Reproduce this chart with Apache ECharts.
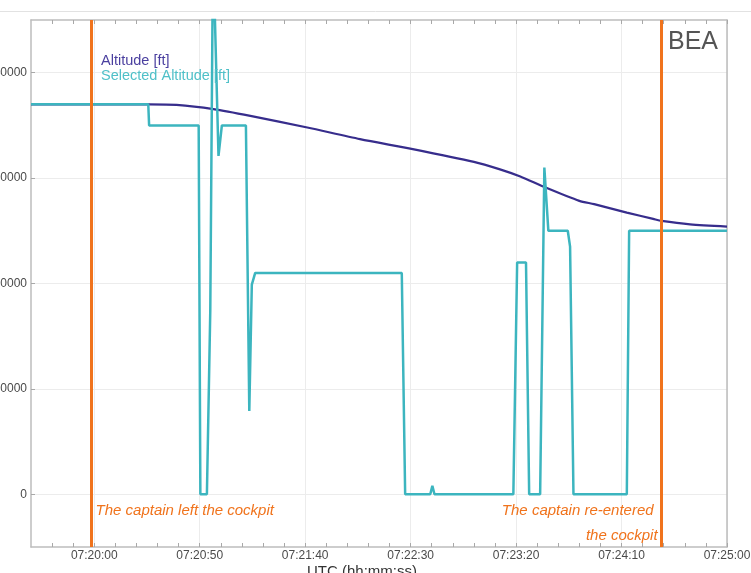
<!DOCTYPE html>
<html><head><meta charset="utf-8">
<script src="https://cdn.jsdelivr.net/npm/echarts@6/dist/echarts.min.js"></script>
<style>html,body{margin:0;padding:0;background:#fff}#c{width:751px;height:573px}</style>
</head><body><div id="c"></div>
<script>
// time values are seconds relative to 07:20:00 UTC
const BASE_SECONDS = 7 * 3600 + 20 * 60;
const xMin = -30, xMax = 300;
const yMin = -5000, yMax = 45000;
const xLabelSeconds = [0, 50, 100, 150, 200, 250, 300];
const xTickSeconds = [-20, -10, 0, 10, 20, 30, 40, 50, 60, 70, 80, 90, 100, 110, 120, 130, 140, 150, 160, 170, 180, 190, 200, 210, 220, 230, 240, 250, 260, 270, 280, 290, 300];
const yTickValues = [0, 10000, 20000, 30000, 40000];

const seriesNames = ['Altitude [ft]', 'Selected Altitude [ft]'];

const altitudeTime = [-30, 26, 39, 56.5, 74, 101, 126, 151, 180, 192, 202, 214, 230, 237, 252.5, 265, 269, 282.5, 300];
const altitudeFt   = [37000, 37000, 36950, 36550, 35910, 34800, 33700, 32750, 31540, 30850, 30150, 29100, 27840, 27530, 26730, 26130, 25940, 25610, 25400];

const selectedTime = [-30, 25.6, 26, 49.5, 50.3, 53.4, 55, 56.3, 58.9, 60.5, 71.9, 73.5, 74.7, 76.3, 145.8, 147.4, 159.3, 160.3, 161.3, 198.7, 200.5, 204.7, 206.2, 211.4, 213.4, 215.3, 224.5, 225.6, 227.2, 252.5, 253.6, 300];
const selectedFt   = [37000, 37000, 35000, 35000, 0, 0, 17400, 52000, 32100, 35000, 35000, 7900, 19900, 21000, 21000, 0, 0, 800, 0, 0, 22000, 22000, 0, 0, 31000, 25000, 25000, 23500, 0, 0, 25000, 25000];

const eventTimes = [-1.3, 269];
const eventTexts = ['The captain left the cockpit', 'The captain re-entered', 'the cockpit'];
const xAxisTitle = 'UTC (hh:mm:ss)';
const logoText = 'BEA';

const C_ALT = '#372d8c', C_SEL = '#3cb5bf', C_ORANGE = '#f0731c';
const FONT = '"Liberation Sans", Arial, sans-serif';

function fmtTime(s) {
  const t = BASE_SECONDS + s;
  const h = Math.floor(t / 3600), m = Math.floor((t % 3600) / 60), sec = Math.round(t % 60);
  const p = n => String(n).padStart(2, '0');
  return p(h) + ':' + p(m) + ':' + p(sec);
}
const zip = (a, b) => a.map((v, i) => [v, b[i]]);

const axisLineStyle = {color: '#bdbdbd', width: 1.5};
const chart = echarts.init(document.getElementById('c'), null, {renderer: 'canvas'});

const option = {
  animation: false,
  backgroundColor: '#ffffff',
  grid: {left: 31, top: 20, right: 24, bottom: 26, containLabel: false, outerBoundsMode: 'none'},
  legend: {
    show: true, orient: 'vertical', left: 91, top: 48, itemGap: 0,
    itemWidth: 0, itemHeight: 0, icon: 'none',
    textStyle: {fontFamily: FONT, fontSize: 14.5, lineHeight: 15},
    data: [
      {name: seriesNames[0], textStyle: {color: '#4a3f9f'}},
      {name: seriesNames[1], textStyle: {color: '#4fc0c8'}}
    ]
  },
  xAxis: [
    {type: 'value', position: 'bottom', min: xMin, max: xMax,
     axisLine: {show: true, onZero: false, lineStyle: axisLineStyle},
     axisTick: {show: true, inside: true, length: 4, customValues: xTickSeconds, lineStyle: {color: '#a8a8a8'}},
     axisLabel: {show: true, customValues: xLabelSeconds, formatter: v => fmtTime(v), color: '#4a4a4a', fontSize: 12, fontFamily: FONT, margin: 3},
     splitLine: {show: false}},
    {type: 'value', position: 'top', min: xMin, max: xMax,
     axisLine: {show: true, onZero: false, lineStyle: axisLineStyle},
     axisTick: {show: true, inside: true, length: 4, customValues: xTickSeconds, lineStyle: {color: '#a8a8a8'}},
     axisLabel: {show: false}, splitLine: {show: false}},
    {type: 'value', position: 'bottom', min: xMin, max: xMax,
     axisLine: {show: false}, axisTick: {show: false, customValues: xLabelSeconds},
     axisLabel: {show: false}, splitLine: {show: true, lineStyle: {color: '#ececec', width: 1}}}
  ],
  yAxis: [
    {type: 'value', position: 'left', min: yMin, max: yMax,
     axisLine: {show: true, onZero: false, lineStyle: axisLineStyle},
     axisTick: {show: true, inside: true, length: 4, customValues: yTickValues, lineStyle: {color: '#a8a8a8'}},
     axisLabel: {show: true, customValues: yTickValues, formatter: v => String(v), color: '#4a4a4a', fontSize: 12, fontFamily: FONT, margin: 4},
     splitLine: {show: true, lineStyle: {color: '#ececec', width: 1}}},
    {type: 'value', position: 'right', min: yMin, max: yMax,
     axisLine: {show: true, onZero: false, lineStyle: axisLineStyle},
     axisTick: {show: false}, axisLabel: {show: false}, splitLine: {show: false}}
  ],
  series: [
    {name: seriesNames[0], type: 'line', xAxisIndex: 0, yAxisIndex: 0,
     data: zip(altitudeTime, altitudeFt), showSymbol: false, symbol: 'none', smooth: 0.25,
     lineStyle: {color: C_ALT, width: 2.2}, itemStyle: {color: C_ALT}, z: 2,
     markLine: {silent: true, symbol: ['none', 'none'], label: {show: false},
       lineStyle: {color: C_ORANGE, width: 3, type: 'solid'},
       data: eventTimes.map(t => ({xAxis: t}))}},
    {name: seriesNames[1], type: 'line', xAxisIndex: 0, yAxisIndex: 0,
     data: zip(selectedTime, selectedFt), showSymbol: false, symbol: 'none',
     lineStyle: {color: C_SEL, width: 2.5}, itemStyle: {color: C_SEL}, z: 3}
  ]
};
chart.setOption(option);

const xL = chart.convertToPixel({xAxisIndex: 0}, eventTimes[0]);
const xR = chart.convertToPixel({xAxisIndex: 0}, eventTimes[1]);
const xA = chart.convertToPixel({xAxisIndex: 0}, xMin);
const xB = chart.convertToPixel({xAxisIndex: 0}, xMax);
const annoStyle = {fill: C_ORANGE, font: 'italic 15px ' + FONT, textVerticalAlign: 'middle'};
chart.setOption({
  graphic: [
    {type: 'line', silent: true, shape: {x1: 0, y1: 11.5, x2: 751, y2: 11.5}, style: {stroke: '#e2e2e2', lineWidth: 1}},
    {type: 'text', silent: true, x: xB - 9, y: 42, style: {text: logoText, textAlign: 'right', textVerticalAlign: 'middle', fill: '#555', font: '25px ' + FONT}},
    {type: 'text', silent: true, x: xL + 4, y: 511, style: Object.assign({}, annoStyle, {text: eventTexts[0], textAlign: 'left'})},
    {type: 'text', silent: true, x: xR - 8, y: 511, style: Object.assign({}, annoStyle, {text: eventTexts[1], textAlign: 'right'})},
    {type: 'text', silent: true, x: xR - 4, y: 536, style: Object.assign({}, annoStyle, {text: eventTexts[2], textAlign: 'right'})},
    {type: 'text', silent: true, x: (xA + xB) / 2 - 17, y: 572, style: {text: xAxisTitle, textAlign: 'center', textVerticalAlign: 'middle', fill: '#333', font: '15px ' + FONT}}
  ]
});
</script>
</body></html>
